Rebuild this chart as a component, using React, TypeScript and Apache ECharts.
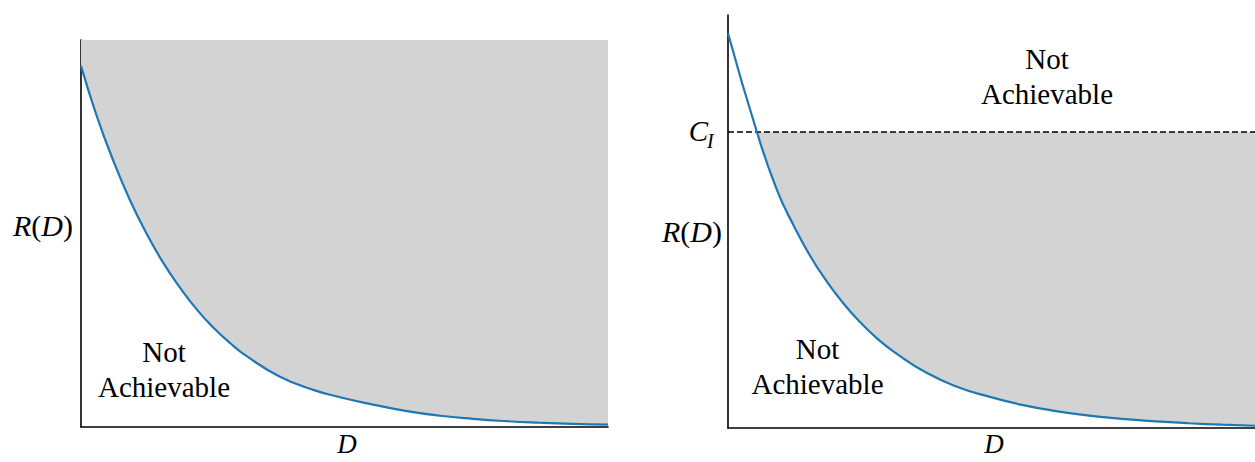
import React, { useEffect, useRef } from "react";
import * as echarts from "echarts";

// Left panel: rate-distortion curve (D, R(D)) in axis units 0..100
const leftD = [0, 2.98, 6.13, 9.3, 12.47, 15.62, 18.79, 21.95, 25.1, 28.27, 31.44, 37.76, 44.08, 49.15, 55.41, 61.86, 68.12, 74.38, 80.83, 87.1, 93.36, 100];
const leftR = [93.3, 80.4, 68.8, 58.6, 49.9, 42.4, 36.0, 30.4, 25.7, 21.7, 18.3, 13.0, 9.6, 7.7, 5.8, 4.1, 2.9, 2.1, 1.5, 1.1, 0.8, 0.6];

// Right panel: rate-distortion curve and channel capacity C_I
const rightD = [0, 5.5, 9.3, 12.47, 15.62, 18.79, 21.95, 25.1, 28.27, 31.44, 37.76, 44.08, 49.53, 55.79, 62.24, 68.5, 74.76, 81.21, 87.48, 93.74, 100];
const rightR = [95.6, 71.6, 57.6, 49.0, 41.6, 35.4, 30.1, 25.6, 21.7, 18.5, 13.3, 9.7, 7.6, 5.6, 4.1, 3.0, 2.2, 1.6, 1.15, 0.8, 0.55];
const capacityCI = 71.7;

const regionLabels = {
  achievable: "Achievable",
  notAchievable: "Not\nAchievable",
};

const BLUE = "#1f77b4";
const GRAY = "#d3d3d3";
const SERIF = "Liberation Serif";

export default function App() {
  const ref = useRef<HTMLDivElement>(null);

  useEffect(() => {
    if (!ref.current) return;
    const chart = echarts.init(ref.current, null, { renderer: "svg" });

    const leftPts = leftD.map((d, i) => [d, leftR[i]]);
    const rightPts = rightD.map((d, i) => [d, rightR[i]]);
    const rightFillPts = rightPts.filter((p) => p[1] <= capacityCI + 0.5);

    const axisLine = { show: true, onZero: false, lineStyle: { color: "#000", width: 1.6 } };
    const mkAxis = (gridIndex: number) => ({
      type: "value" as const,
      gridIndex,
      min: 0,
      max: 100,
      axisLine,
      axisTick: { show: false },
      axisLabel: { show: false },
      splitLine: { show: false },
    });

    const txt = (x: number, y: number, text: string, size = 29, italic = false, align = "center") => ({
      type: "text",
      x,
      y,
      style: {
        text,
        fontFamily: SERIF,
        fontSize: size,
        fontStyle: italic ? "italic" : "normal",
        fill: "#000",
        align,
        verticalAlign: "middle",
        lineHeight: 35,
      },
    });
    const rd = (x: number, y: number) => ({
      type: "text",
      x,
      y,
      style: {
        text: "{i|R}{n|(}{i|D}{n|)}",
        fontFamily: SERIF,
        fontSize: 30,
        align: "right",
        verticalAlign: "middle",
        rich: {
          i: { fontFamily: SERIF, fontSize: 30, fontStyle: "italic", fill: "#000" },
          n: { fontFamily: SERIF, fontSize: 30, fill: "#000" },
        },
      },
    });
    const smooth = true;

    chart.setOption({
      animation: false,
      backgroundColor: "#fff",
      grid: [
        { left: 81, top: 40, width: 527, height: 387 },
        { left: 728, top: 15, width: 527, height: 413 },
      ],
      xAxis: [mkAxis(0), mkAxis(1)],
      yAxis: [mkAxis(0), mkAxis(1)],
      series: [
        {
          type: "line",
          xAxisIndex: 0,
          yAxisIndex: 0,
          data: leftPts,
          smooth,
          symbol: "none",
          lineStyle: { width: 0, opacity: 0 },
          areaStyle: { color: GRAY, opacity: 1, origin: "end" },
          z: 1,
        },
        {
          type: "line",
          xAxisIndex: 0,
          yAxisIndex: 0,
          data: leftPts,
          smooth,
          symbol: "none",
          lineStyle: { width: 2.2, color: BLUE },
          z: 3,
        },
        {
          type: "line",
          xAxisIndex: 1,
          yAxisIndex: 1,
          data: rightFillPts,
          smooth,
          symbol: "none",
          lineStyle: { width: 0, opacity: 0 },
          areaStyle: { color: GRAY, opacity: 1, origin: capacityCI },
          z: 1,
        },
        {
          type: "line",
          xAxisIndex: 1,
          yAxisIndex: 1,
          data: [
            [0, capacityCI],
            [100, capacityCI],
          ],
          symbol: "none",
          lineStyle: { width: 1.5, color: "#000", type: [6, 3] },
          z: 2,
        },
        {
          type: "line",
          xAxisIndex: 1,
          yAxisIndex: 1,
          data: rightPts,
          smooth,
          symbol: "none",
          lineStyle: { width: 2.2, color: BLUE },
          z: 3,
        },
      ],
      graphic: [
        txt(398, 165, regionLabels.achievable),
        txt(164, 369, regionLabels.notAchievable),
        txt(1047, 76.5, regionLabels.notAchievable),
        txt(1050, 256.5, regionLabels.achievable),
        txt(817.5, 366, regionLabels.notAchievable),
        rd(73, 225),
        rd(722, 231.5),
        txt(347, 444, "D", 27, true),
        txt(994, 444, "D", 27, true),
        txt(708, 131, "C", 29, true, "right"),
        txt(707, 141, "I", 20, true, "left"),
      ],
    });

    return () => chart.dispose();
  }, []);

  return (
    <div
      ref={ref}
      style={{ position: "absolute", left: 0, top: 0, width: 1255, height: 462, background: "#fff" }}
    />
  );
}
